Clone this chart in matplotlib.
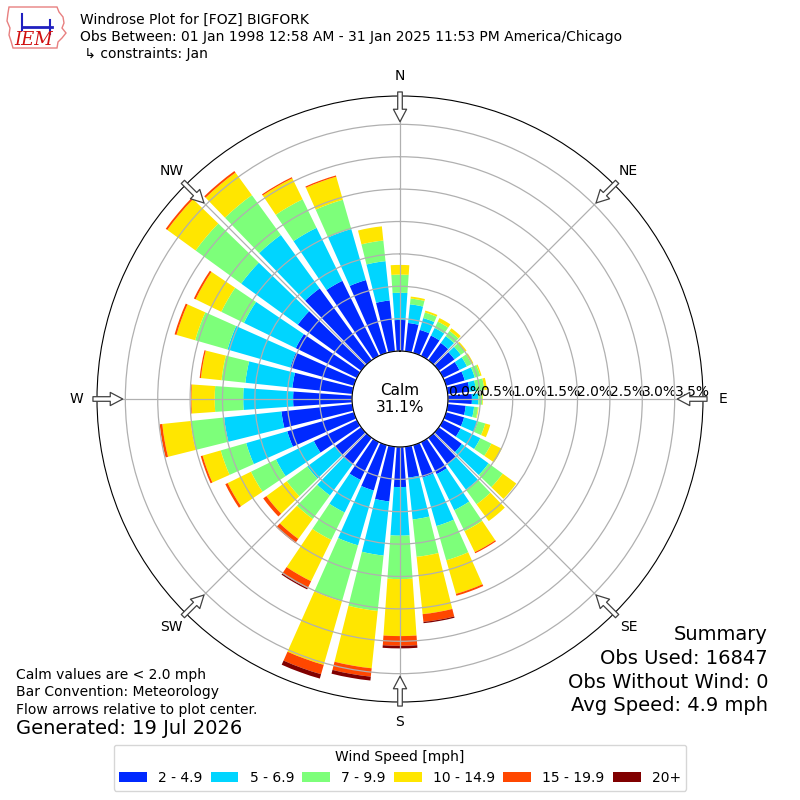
import numpy as np
import matplotlib
matplotlib.use("Agg")
import matplotlib.pyplot as plt
from matplotlib.patches import Polygon

# wind direction bins (deg, direction wind blows from)
directions = np.arange(0, 360, 10)
speed_labels = ["2 - 4.9", "5 - 6.9", "7 - 9.9", "10 - 14.9", "15 - 19.9", "20+"]

# frequency [%] per direction bin, one list per speed bin
spd_2_5 = [0.48, 0.44, 0.37, 0.35, 0.33, 0.30, 0.28, 0.30, 0.34, 0.37, 0.28, 0.29,
           0.30, 0.44, 0.50, 0.55, 0.52, 0.48, 0.62, 0.85, 0.73, 0.65, 0.51, 0.50,
           0.74, 1.07, 1.10, 0.91, 0.93, 1.02, 1.05, 1.21, 1.37, 1.29, 1.17, 0.79]
spd_5_7 = [0.42, 0.29, 0.19, 0.13, 0.13, 0.12, 0.13, 0.16, 0.10, 0.10, 0.13, 0.22,
           0.34, 0.51, 0.49, 0.62, 0.78, 0.65, 0.75, 0.84, 0.88, 0.56, 0.59, 0.53,
           0.65, 0.66, 0.89, 0.77, 0.73, 1.01, 0.89, 1.08, 1.02, 0.91, 0.82, 0.61]
spd_7_10 = [0.28, 0.09, 0.09, 0.11, 0.10, 0.08, 0.08, 0.09, 0.13, 0.06, 0.06, 0.12,
            0.19, 0.27, 0.28, 0.36, 0.55, 0.58, 0.67, 0.86, 0.90, 0.47, 0.45, 0.39,
            0.43, 0.41, 0.52, 0.44, 0.37, 0.52, 0.39, 0.87, 0.76, 0.49, 0.47, 0.32]
spd_10_15 = [0.15, 0.03, 0.03, 0.06, 0.05, 0.03, 0.03, 0.02, 0.04, 0.01, 0.01, 0.08,
             0.18, 0.26, 0.32, 0.36, 0.54, 0.89, 0.88, 0.89, 1.02, 0.71, 0.38, 0.39,
             0.40, 0.29, 0.44, 0.36, 0.32, 0.30, 0.44, 0.54, 0.43, 0.36, 0.37, 0.22]
spd_15_20 = [0.00, 0.00, 0.00, 0.00, 0.00, 0.00, 0.00, 0.00, 0.00, 0.00, 0.00, 0.00,
             0.00, 0.00, 0.00, 0.02, 0.03, 0.12, 0.15, 0.13, 0.15, 0.12, 0.08, 0.06,
             0.04, 0.03, 0.04, 0.01, 0.02, 0.03, 0.03, 0.03, 0.03, 0.02, 0.02, 0.00]
spd_20p = [0.00, 0.00, 0.00, 0.00, 0.00, 0.00, 0.00, 0.00, 0.00, 0.00, 0.00, 0.00,
           0.00, 0.00, 0.00, 0.00, 0.00, 0.02, 0.04, 0.06, 0.07, 0.02, 0.00, 0.00,
           0.00, 0.00, 0.00, 0.00, 0.00, 0.00, 0.00, 0.00, 0.00, 0.00, 0.00, 0.00]

calm_pct = 31.1
compass = ["N", "NE", "E", "SE", "S", "SW", "W", "NW"]
rticks = [0.0, 0.5, 1.0, 1.5, 2.0, 2.5, 3.0, 3.5]

series = [spd_2_5, spd_5_7, spd_7_10, spd_10_15, spd_15_20, spd_20p]
colors = plt.cm.jet(np.linspace(0, 1, 7)[1:])

fig = plt.figure(figsize=(8, 8), dpi=100)
ax = fig.add_axes([97 / 800, 98 / 800, 606 / 800, 606 / 800], projection="polar")
ax.set_theta_zero_location("N")
ax.set_theta_direction(-1)

theta = np.deg2rad(directions)
width = np.deg2rad(8)
bottom = np.zeros(len(directions))
for vals, col, lab in zip(series, colors, speed_labels):
    vals = np.array(vals)
    ax.bar(theta, vals, width=width, bottom=bottom, color=col,
           edgecolor="none", label=lab)
    bottom = bottom + vals

rmax = bottom.max() * 1.05
ax.set_rorigin(-0.74)
ax.set_ylim(0, rmax)
ax.set_yticks(rticks)
ax.set_yticklabels(["%.1f%%" % r for r in rticks], fontsize=10)
ax.set_rlabel_position(90)
ax.set_xticks(np.deg2rad(np.arange(0, 360, 45)))
ax.set_xticklabels(compass, fontsize=10)
ax.tick_params(axis="x", pad=4)
ax.grid(True, color="#b0b0b0", lw=0.9)

# flow arrows at the compass points
for ang in np.arange(0, 360, 45):
    t = np.deg2rad(ang)
    ax.annotate("", xy=(t, 3.54), xytext=(t, 4.0), annotation_clip=False,
                arrowprops=dict(arrowstyle="simple,head_length=0.9,head_width=0.95,tail_width=0.33",
                                fc="white", ec="#404040", lw=0.9, shrinkA=0, shrinkB=0),
                zorder=6)

ax.text(0.5, 0.5, "Calm\n%.1f%%" % calm_pct, transform=ax.transAxes,
        ha="center", va="center", fontsize=11, multialignment="center")

# header
fig.text(80 / 800, 1 - 20 / 800, "Windrose Plot for [FOZ] BIGFORK", fontsize=10, va="center")
fig.text(80 / 800, 1 - 37 / 800,
         "Obs Between: 01 Jan 1998 12:58 AM - 31 Jan 2025 11:53 PM America/Chicago",
         fontsize=10, va="center")
fig.text(80 / 800, 1 - 54 / 800, " \u21b3 constraints: Jan", fontsize=10, va="center")

# rough IEM logo
outline = [(9, 7), (57, 7), (59, 12), (63, 17), (64, 23), (62, 28), (66, 33),
           (62, 38), (58, 42), (57, 48), (13, 48), (11, 41), (9, 35), (10, 28),
           (7, 21), (8, 13)]
fig.add_artist(Polygon([(x / 800, 1 - y / 800) for x, y in outline], closed=True,
                       fill=False, ec="#e88080", lw=1, transform=fig.transFigure))
fig.add_artist(plt.Line2D([22 / 800, 52 / 800], [1 - 27 / 800, 1 - 27 / 800],
                          color="#2020c0", lw=2, transform=fig.transFigure))
fig.add_artist(plt.Line2D([22 / 800, 22 / 800], [1 - 14 / 800, 1 - 30 / 800],
                          color="#2020c0", lw=1.5, transform=fig.transFigure))
fig.add_artist(plt.Line2D([50 / 800, 50 / 800], [1 - 20 / 800, 1 - 34 / 800],
                          color="#2020c0", lw=1.5, transform=fig.transFigure))
fig.text(14 / 800, 1 - 40 / 800, "IEM", color="#d01010", fontsize=13,
         style="italic", family="DejaVu Serif", va="center")

# footer notes
fig.text(16 / 800, 1 - 675 / 800, "Calm values are < 2.0 mph", fontsize=10, va="center")
fig.text(16 / 800, 1 - 692 / 800, "Bar Convention: Meteorology", fontsize=10, va="center")
fig.text(16 / 800, 1 - 710 / 800, "Flow arrows relative to plot center.", fontsize=10, va="center")
fig.text(16 / 800, 1 - 729 / 800, "Generated: 19 Jul 2026", fontsize=14, va="center")

summary = ["Summary", "Obs Used: 16847", "Obs Without Wind: 0", "Avg Speed: 4.9 mph"]
for i, line in enumerate(summary):
    fig.text(768 / 800, 1 - (635 + 23.5 * i) / 800, line, fontsize=14,
             ha="right", va="center")

handles, labels = ax.get_legend_handles_labels()
fig.legend(handles, labels, loc="lower center", bbox_to_anchor=(0.5, 0.003),
           ncol=6, fontsize=10, title="Wind Speed [mph]", title_fontsize=10,
           columnspacing=0.6)

fig.savefig("out.png", dpi=100)
